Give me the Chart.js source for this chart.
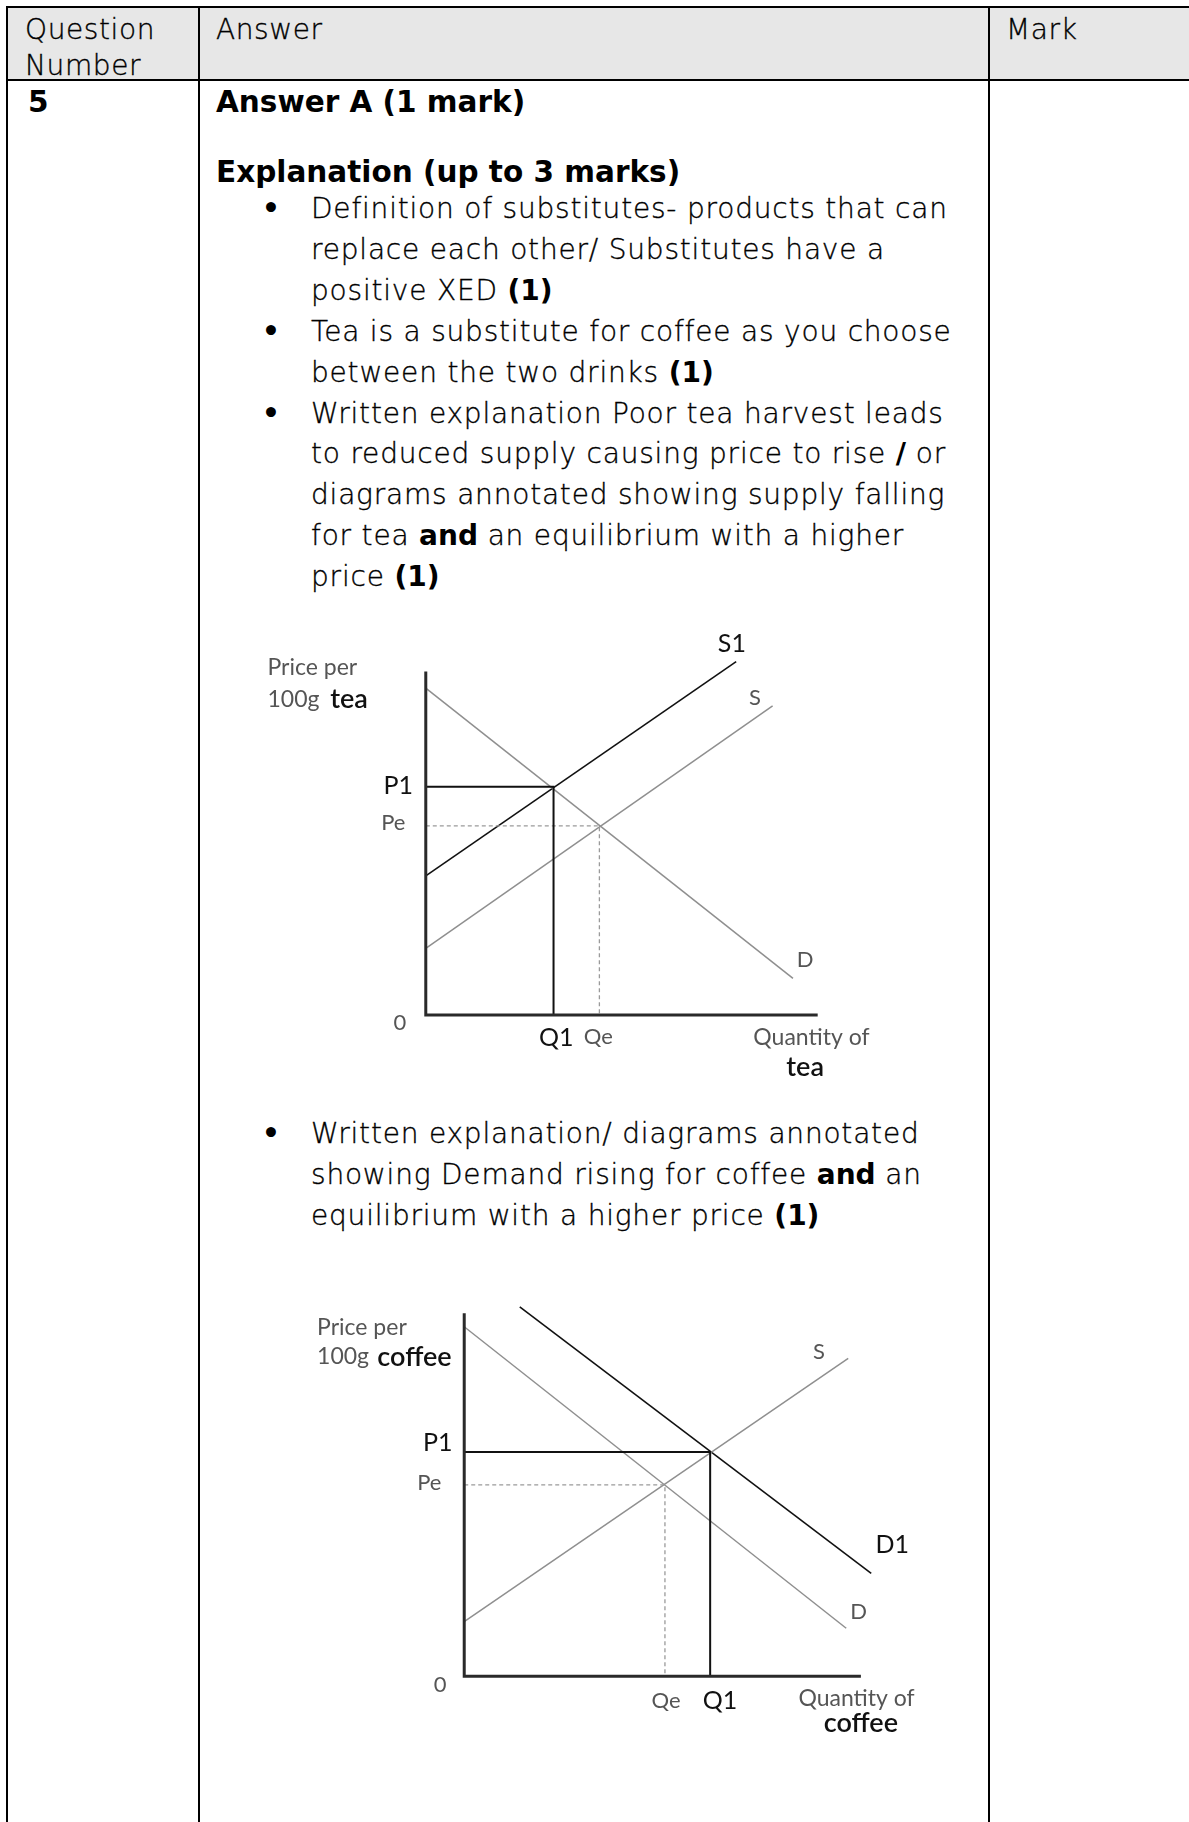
<!DOCTYPE html>
<html lang="en">

<head>
  <meta charset="UTF-8">
  <title>Question 5 - substitutes</title>
  <script src="https://cdn.jsdelivr.net/npm/chart.js"></script>
  <style>
    body { margin: 0; background: #fff; }
    .page { position: relative; width: 1189px; height: 1822px; overflow: hidden; font-family: "DejaVu Sans", sans-serif; color: #000; }
    .rule { position: absolute; background: #000; }
    .head-bg { position: absolute; left: 8px; top: 8px; width: 1181px; height: 71px; background: #e7e7e7; }
    .txt { position: absolute; white-space: nowrap; }
    .light { font-weight: 200; font-size: 28px; letter-spacing: 0.6px; -webkit-text-stroke: 0.35px #000; }
    .head { line-height: 36px; }
    .bold { font-weight: bold; font-size: 29.5px; line-height: 41px; }
    .bullets { line-height: 40.9px; letter-spacing: 0.8px; }
    .bullets b { font-weight: bold; font-size: 28px; letter-spacing: 0; -webkit-text-stroke: 0; }
    .bullets .b { position: relative; }
    .bullets .b::before { content: "\2022"; position: absolute; left: -49px; font-weight: bold; -webkit-text-stroke: 0; }
    canvas { position: absolute; }
  </style>
</head>

<body>
  <div class="page">
    <!-- table frame -->
    <div class="head-bg"></div>
    <div class="rule" style="left:6px;top:6px;width:1183px;height:2px"></div>
    <div class="rule" style="left:6px;top:79px;width:1183px;height:2px"></div>
    <div class="rule" style="left:6px;top:6px;width:2px;height:1816px"></div>
    <div class="rule" style="left:198px;top:6px;width:2px;height:1816px"></div>
    <div class="rule" style="left:988px;top:6px;width:2px;height:1816px"></div>

    <!-- header row -->
    <div class="txt light head" style="left:25px;top:12px">Question<br>Number</div>
    <div class="txt light head" style="left:216px;top:12px">Answer</div>
    <div class="txt light head" style="left:1006px;top:12px">Mark</div>

    <!-- answer cell -->
    <div class="txt bold" style="left:28px;top:82px">5</div>
    <div class="txt bold" style="left:216px;top:82px">Answer A (1 mark)</div>
    <div class="txt bold" style="left:216px;top:152px">Explanation (up to 3 marks)</div>

    <div class="txt light bullets" style="left:311px;top:189px">
      <div class="b">Definition of substitutes- products that can</div>
      <div>replace each other/ Substitutes have a</div>
      <div>positive XED <b>(1)</b></div>
      <div class="b">Tea is a substitute for coffee as you choose</div>
      <div>between the two drinks <b>(1)</b></div>
      <div class="b">Written explanation Poor tea harvest leads</div>
      <div>to reduced supply causing price to rise <b>/</b> or</div>
      <div>diagrams annotated showing supply falling</div>
      <div>for tea <b>and</b> an equilibrium with a higher</div>
      <div>price <b>(1)</b></div>
    </div>

    <canvas id="teaChart" width="620" height="450" style="left:260px;top:630px"></canvas>

    <div class="txt light bullets" style="left:311px;top:1114px">
      <div class="b">Written explanation/ diagrams annotated</div>
      <div>showing Demand rising for coffee <b>and</b> an</div>
      <div>equilibrium with a higher price <b>(1)</b></div>
    </div>

    <canvas id="coffeeChart" width="620" height="455" style="left:300px;top:1285px"></canvas>
  </div>

  <script>
    // Diagram units: both axes run 0 - 100 (quantity across, price up)

    // Tea market: supply falls (S -> S1)
    const teaDemand = [[0, 95.2], [93.7, 10.7]];
    const teaSupply = [[0, 19.4], [88.5, 90.0]];
    const teaSupply1 = [[0, 40.5], [79.2, 102.9]];
    const teaPrices = [55.1, 66.5];      // Pe, P1
    const teaQuantities = [44.3, 32.6];  // Qe, Q1

    // Coffee market: demand rises (D -> D1)
    const coffeeDemand = [[0, 96.3], [96.3, 13.2]];
    const coffeeDemand1 = [[14.0, 101.8], [102.6, 28.3]];
    const coffeeSupply = [[0, 15.0], [96.8, 87.6]];
    const coffeePrices = [52.7, 61.8];      // Pe, P1
    const coffeeQuantities = [50.6, 62.0];  // Qe, Q1

    const priceTicks = ["Pe", "P1"];
    const quantityTicks = ["Qe", "Q1"];

    const GREY = "#8f8f8f";
    const DARK = "#111";
    const LABEL_GREY = "#555";

    function line(points, color, width, dash) {
      return {
        data: points.map(p => ({ x: p[0], y: p[1] })),
        showLine: true,
        borderColor: color,
        borderWidth: width,
        borderDash: dash || [],
        pointRadius: 0,
        fill: false,
        tension: 0,
      };
    }

    // writes curve names and axis text at diagram coordinates
    const diagramLabels = {
      id: "diagramLabels",
      afterDatasetsDraw(chart, args, opts) {
        const ctx = chart.ctx;
        const xs = chart.scales.x, ys = chart.scales.y;
        ctx.save();
        ctx.textBaseline = "middle";
        opts.items.forEach(l => {
          ctx.font = l.font;
          ctx.fillStyle = l.color;
          ctx.textAlign = l.align || "center";
          ctx.fillText(l.text, xs.getPixelForValue(l.x), ys.getPixelForValue(l.y));
        });
        ctx.restore();
      }
    };

    const small = "22px Lato, 'Noto Sans', sans-serif";
    const axisText = "23px Lato, 'Noto Sans', sans-serif";
    const big = "25px Lato, 'Noto Sans', sans-serif";
    const bigBold = "600 27px Lato, 'Noto Sans', sans-serif";

    function makeDiagram(id, curves, prices, quantities, labels, range) {
      const pe = prices[0], p1 = prices[1];
      const qe = quantities[0], q1 = quantities[1];
      const datasets = [
        line([[0, 100], [0, 0], [100, 0]], "#2a2a2a", 3),
        line([[0, p1], [q1, p1], [q1, 0]], DARK, 2),
        line([[0, pe], [qe, pe], [qe, 0]], "#9a9a9a", 1.3, [4, 3]),
      ].concat(curves);

      return new Chart(document.getElementById(id), {
        type: "scatter",
        data: { datasets: datasets },
        options: {
          responsive: false,
          animation: false,
          layout: { padding: 0 },
          scales: {
            x: { type: "linear", display: false, min: range[0], max: range[1] },
            y: { type: "linear", display: false, min: range[2], max: range[3] },
          },
          plugins: {
            legend: { display: false },
            tooltip: { enabled: false },
            diagramLabels: { items: labels },
          },
        },
        plugins: [diagramLabels],
      });
    }

    makeDiagram("teaChart",
      [
        line(teaDemand, GREY, 1.5),
        line(teaSupply, GREY, 1.5),
        line(teaSupply1, DARK, 1.6),
      ],
      teaPrices, teaQuantities,
      [
        { text: "Price per", x: -40.4, y: 101.1, font: axisText, color: LABEL_GREY, align: "left" },
        { text: "100g", x: -40.4, y: 91.8, font: axisText, color: LABEL_GREY, align: "left" },
        { text: "tea", x: -24.4, y: 91.8, font: bigBold, color: DARK, align: "left" },
        { text: priceTicks[1], x: -7.0, y: 66.8, font: big, color: DARK },
        { text: priceTicks[0], x: -8.3, y: 56.0, font: small, color: LABEL_GREY },
        { text: "0", x: -6.6, y: -2.4, font: small, color: LABEL_GREY },
        { text: quantityTicks[1], x: 33.3, y: -6.6, font: big, color: DARK },
        { text: quantityTicks[0], x: 44.0, y: -6.3, font: small, color: LABEL_GREY },
        { text: "Quantity of", x: 98.4, y: -6.5, font: axisText, color: LABEL_GREY },
        { text: "tea", x: 96.8, y: -15.3, font: bigBold, color: DARK },
        { text: "S1", x: 78.1, y: 108.0, font: big, color: DARK },
        { text: "S", x: 84.0, y: 92.2, font: small, color: LABEL_GREY },
        { text: "D", x: 96.8, y: 16.0, font: small, color: LABEL_GREY },
      ],
      [-42.3, 115.9, -18.9, 112.1]);

    makeDiagram("coffeeChart",
      [
        line(coffeeDemand, GREY, 1.5),
        line(coffeeSupply, GREY, 1.5),
        line(coffeeDemand1, DARK, 1.6),
      ],
      coffeePrices, coffeeQuantities,
      [
        { text: "Price per", x: -37.1, y: 96.0, font: axisText, color: LABEL_GREY, align: "left" },
        { text: "100g", x: -37.1, y: 88.0, font: axisText, color: LABEL_GREY, align: "left" },
        { text: "coffee", x: -21.9, y: 88.0, font: bigBold, color: DARK, align: "left" },
        { text: priceTicks[1], x: -6.7, y: 64.2, font: big, color: DARK },
        { text: priceTicks[0], x: -8.8, y: 53.2, font: small, color: LABEL_GREY },
        { text: "0", x: -6.1, y: -2.5, font: small, color: LABEL_GREY },
        { text: quantityTicks[0], x: 50.9, y: -6.9, font: small, color: LABEL_GREY },
        { text: quantityTicks[1], x: 64.5, y: -6.9, font: big, color: DARK },
        { text: "Quantity of", x: 98.9, y: -6.1, font: axisText, color: LABEL_GREY },
        { text: "coffee", x: 100, y: -13.0, font: bigBold, color: DARK },
        { text: "S", x: 89.4, y: 89.4, font: small, color: LABEL_GREY },
        { text: "D1", x: 107.9, y: 36.1, font: big, color: DARK },
        { text: "D", x: 99.4, y: 17.6, font: small, color: LABEL_GREY },
      ],
      [-41.4, 114.9, -17.6, 107.8]);
  </script>
</body>

</html>
